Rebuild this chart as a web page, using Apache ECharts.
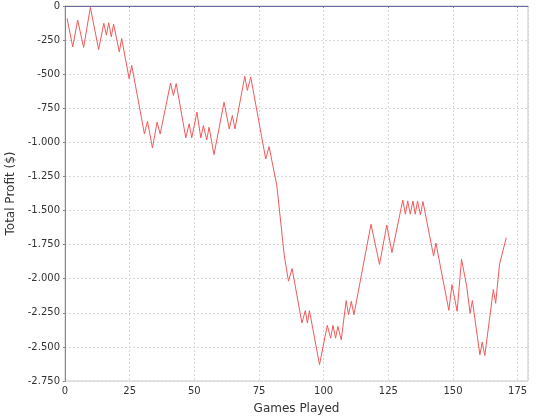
<!DOCTYPE html>
<html><head><meta charset="utf-8">
<script src="https://cdn.jsdelivr.net/npm/echarts@6/dist/echarts.min.js"></script>
<style>html,body{margin:0;padding:0;background:#fff}#c{width:540px;height:420px}</style>
</head><body><div id="c"></div>
<script>
// Vertices of the profit line (game number, total profit $)
var games = [0.8,3,4.9,7.2,9.8,13,15,16,16.9,17.9,18.8,21,21.9,24.8,25.8,30.7,31.9,33.8,35.6,36.8,
  40.8,41.9,43,46.7,48,49,51,52.5,53.5,54.8,55.7,57.6,61.5,63.5,64.7,65.7,69.5,70.5,71.8,77.6,78.9,
  81.9,84.8,86.4,87.8,91.6,92.9,93.7,94.5,98.4,101.4,102.7,103.6,104.6,105.5,106.8,108.7,109.6,110.7,
  111.7,118.3,121.6,124.4,126.4,130.6,131.6,132.5,133.5,134.5,135.4,136.3,137.4,138.4,142.5,143.4,
  148.4,149.6,151.6,153.3,155.3,156.6,157.5,160.4,161.3,162.3,165.6,166.5,168,170.6];
var profit = [-91,-300,-103,-304,-10,-319,-127,-214,-123,-226,-133,-337,-238,-533,-435,-938,-845,-1041,-852,-938,
  -565,-656,-569,-967,-864,-967,-778,-967,-877,-982,-889,-1090,-705,-901,-803,-901,-516,-619,-521,-1122,-1031,
  -1318,-1834,-2018,-1925,-2325,-2234,-2325,-2234,-2630,-2342,-2436,-2342,-2436,-2350,-2448,-2160,-2264,-2166,
  -2264,-1601,-1895,-1606,-1808,-1424,-1527,-1429,-1527,-1431,-1527,-1431,-1532,-1434,-1834,-1738,
  -2232,-2043,-2239,-1858,-2055,-2254,-2160,-2558,-2465,-2563,-2079,-2180,-1893,-1699];
var xTicks = [0,25,50,75,100,125,150,175];
var yTicks = [0,-250,-500,-750,-1000,-1250,-1500,-1750,-2000,-2250,-2500,-2750];

function fmt(v){
  var s = Math.abs(v).toString().replace(/\B(?=(\d{3})+(?!\d))/g,'.');
  return (v<0?'-':'') + s;
}
var data = games.map(function(g,i){return [g, profit[i]];});
var chart = echarts.init(document.getElementById('c'), null, {renderer:'canvas'});
var font = 'DejaVu Sans';
chart.setOption({
  animation:false,
  backgroundColor:'#ffffff',
  grid:{left:65, top:6, right:12, bottom:39, containLabel:false, outerBoundsMode:'none',
    show:true, borderColor:'#c8c8c8', borderWidth:1, backgroundColor:'#ffffff'},
  xAxis:{type:'value', min:0, max:179, interval:25,
    name:'Games Played', nameLocation:'middle', nameGap:22,
    nameTextStyle:{fontFamily:font, fontSize:12, color:'#333'},
    axisLine:{lineStyle:{color:'#888888'}},
    axisTick:{show:true, length:2, lineStyle:{color:'#888'}},
    axisLabel:{fontFamily:font, fontSize:10, color:'#333', margin:5, showMaxLabel:false,
      formatter:function(v){return xTicks.indexOf(v)>=0?String(v):'';}},
    splitLine:{show:true, lineStyle:{color:'#d8d8d8', type:[2,2]}}
  },
  yAxis:{type:'value', min:-2750, max:0, interval:250,
    name:'Total Profit ($)', nameLocation:'middle', nameGap:34, nameRotate:90,
    nameTextStyle:{fontFamily:font, fontSize:12, color:'#333'},
    axisLine:{show:true, lineStyle:{color:'#888888'}},
    axisTick:{show:true, length:2, lineStyle:{color:'#888'}},
    axisLabel:{fontFamily:font, fontSize:10, color:'#333', margin:5,
      formatter:function(v){return yTicks.indexOf(v)>=0?fmt(v):'';}},
    splitLine:{show:true, lineStyle:{color:'#d8d8d8', type:[2,2]}}
  },
  series:[{type:'line', data:data, showSymbol:false, symbol:'none',
    lineStyle:{color:'#f05a5a', width:1},
    markLine:{silent:true, symbol:'none', label:{show:false},
      lineStyle:{color:'#6a6a9a', type:'solid', width:1},
      data:[{yAxis:0}]}
  }]
});
</script></body></html>
